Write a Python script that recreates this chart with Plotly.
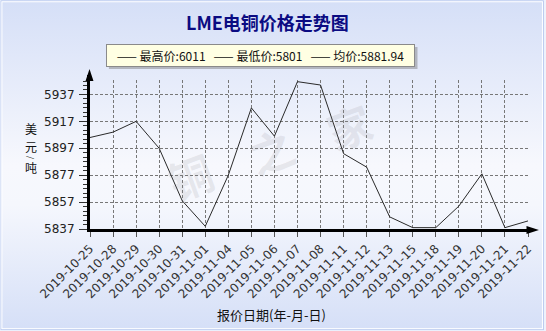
import base64
import plotly.graph_objects as go

# ---------------- data ----------------
dates = ["2019-10-25", "2019-10-28", "2019-10-29", "2019-10-30", "2019-10-31",
         "2019-11-01", "2019-11-04", "2019-11-05", "2019-11-06", "2019-11-07",
         "2019-11-08", "2019-11-11", "2019-11-12", "2019-11-13", "2019-11-15",
         "2019-11-18", "2019-11-19", "2019-11-20", "2019-11-21", "2019-11-22"]
prices = [5905, 5909, 5917, 5897, 5858,
          5839, 5877, 5927, 5906, 5946.5,
          5944, 5893, 5883, 5846, 5838,
          5838, 5854, 5878, 5838, 5843]
y_ticks = [5837, 5857, 5877, 5897, 5917, 5937]
legend_items = ["最高价:6011", "最低价:5801", "均价:5881.94"]
title_text = "LME电铜价格走势图"
x_title = "报价日期(年-月-日)"
y_title_parts = ["美", "元", "/", "吨"]
watermark = ["铜", "之", "家"]

# ---------------- geometry ----------------
W, H = 546, 331
L, R, T, B = 90, 16, 80, 101.5
PW = W - L - R
PH = H - T - B


def px(x, y):
    return (x - L) / PW, (H - B - y) / PH


def path(points):
    s = ""
    for i, (x, y) in enumerate(points):
        xp, yp = px(x, y)
        s += ("M" if i == 0 else "L") + f"{xp:.5f},{yp:.5f} "
    return s + "Z"


# background gradient as svg
svg = f'''<svg xmlns="http://www.w3.org/2000/svg" width="{W}" height="{H}">
<defs><linearGradient id="g" x1="0" y1="0" x2="0" y2="1">
<stop offset="0" stop-color="#d5dff7"/>
<stop offset="0.5" stop-color="#f7f8fd"/>
<stop offset="0.62" stop-color="#f5f7fd"/>
<stop offset="1" stop-color="#d5dff7"/>
</linearGradient></defs>
<rect x="0" y="0" width="{W}" height="{H}" fill="url(#g)"/>
<rect x="0.5" y="0.5" width="{W-1}" height="{H-1}" fill="none" stroke="#b9c9ef" stroke-width="1"/>
<rect x="1.5" y="1.5" width="{W-3}" height="{H-3}" fill="none" stroke="#ffffff" stroke-width="1"/>
</svg>'''
svg_uri = "data:image/svg+xml;base64," + base64.b64encode(svg.encode()).decode()

fig = go.Figure()
fig.add_trace(go.Scatter(x=dates, y=prices, mode="lines",
                         line=dict(color="#2a2a2a", width=1),
                         hoverinfo="skip", showlegend=False))

x0p, y0p = px(0, H)
x1p, y1p = px(W, 0)
fig.add_layout_image(dict(source=svg_uri, xref="paper", yref="paper",
                          x=x0p, y=y1p, sizex=x1p - x0p, sizey=y1p - y0p,
                          xanchor="left", yanchor="top", sizing="stretch",
                          layer="below"))

shapes = []
# arrows
shapes.append(dict(type="path", xref="paper", yref="paper",
                   path=path([(89.5, 69), (85.5, 81), (93.5, 81)]),
                   fillcolor="black", line=dict(width=0)))
shapes.append(dict(type="path", xref="paper", yref="paper",
                   path=path([(541, 230.5), (528.5, 226.5), (528.5, 234.5)]),
                   fillcolor="black", line=dict(width=0)))
# y axis extension to arrow
x_a, y_a = px(88.5, 80)
x_b, y_b = px(88.5, 75)
shapes.append(dict(type="line", xref="paper", yref="paper", x0=x_a, y0=y_a,
                   x1=x_b, y1=y_b, line=dict(color="black", width=3)))
# legend shadow
sx0, sy0 = px(109, 69)
sx1, sy1 = px(419, 47)
shapes.append(dict(type="rect", xref="paper", yref="paper", x0=sx0, y0=sy0,
                   x1=sx1, y1=sy1, fillcolor="rgba(120,120,120,0.45)",
                   line=dict(width=0), layer="below"))

annotations = []
tx, ty = px(268, 22)
annotations.append(dict(text=f"<b>{title_text}</b>", xref="paper", yref="paper",
                        x=tx, y=ty, showarrow=False, xanchor="center", yanchor="middle",
                        font=dict(family="Noto Sans CJK SC", size=18, color="#0b0b82")))
lx, ly = px(261.5, 55.5)
leg_text = "   ".join("—— " + s for s in legend_items)
annotations.append(dict(text=leg_text, xref="paper", yref="paper", x=lx, y=ly,
                        showarrow=False, xanchor="center", yanchor="middle",
                        width=303, height=17, bgcolor="#ffffe3", bordercolor="#8a8a8a",
                        borderwidth=1, borderpad=2,
                        font=dict(family="Noto Sans CJK SC", size=12, color="#111")))
xtx, xty = px(272, 315)
annotations.append(dict(text=x_title, xref="paper", yref="paper", x=xtx, y=xty,
                        showarrow=False, xanchor="center", yanchor="middle",
                        font=dict(family="Noto Sans CJK SC", size=13, color="#111")))
for part, cy, size, ang in zip(y_title_parts, [129, 147, 157.5, 168],
                               [12, 12, 8, 12], [0, 0, 90, 0]):
    ytx, yty = px(31, cy)
    annotations.append(dict(text=part, xref="paper", yref="paper", x=ytx, y=yty,
                            showarrow=False, xanchor="center", yanchor="middle",
                            textangle=ang, borderpad=0,
                            font=dict(family="Noto Sans CJK SC", size=size, color="#111")))
for ch, (cx, cy) in zip(watermark, [(190, 176), (272, 150), (350, 126)]):
    wx, wy = px(cx, cy)
    annotations.append(dict(text=f"<b>{ch}</b>", xref="paper", yref="paper",
                            x=wx, y=wy, showarrow=False, textangle=-20,
                            xanchor="center", yanchor="middle",
                            font=dict(family="Noto Sans CJK SC", size=44,
                                      color="rgba(140,140,150,0.16)")))

fig.update_layout(
    width=W, height=H,
    margin=dict(l=L, r=R, t=T, b=B, pad=0),
    paper_bgcolor="#eef2fc", plot_bgcolor="rgba(0,0,0,0)",
    shapes=shapes, annotations=annotations, showlegend=False,
    xaxis=dict(type="category", range=[0, len(dates) - 1],
               showline=True, linecolor="black", linewidth=3,
               showgrid=True, gridcolor="#777", griddash="3px,2px", gridwidth=1,
               ticks="outside", ticklen=5, tickcolor="#555", tickwidth=1,
               tickangle=-45, tickfont=dict(family="DejaVu Sans", size=12, color="#333"),
               zeroline=False, fixedrange=True),
    yaxis=dict(range=[5837, 5837 + PH / 1.35], tickmode="array", tickvals=y_ticks,
               showline=True, linecolor="black", linewidth=3,
               showgrid=True, gridcolor="#777", griddash="3px,2px", gridwidth=1,
               ticks="outside", ticklen=8, tickcolor="#333", tickwidth=1,
               ticklabelstandoff=2,
               minor=dict(tickmode="linear", tick0=5837, dtick=20 / 6, ticklen=4,
                          tickcolor="#333", showgrid=False, ticks="outside"),
               tickfont=dict(family="DejaVu Sans", size=12, color="#222"),
               zeroline=False, fixedrange=True),
)

fig.write_html("out.html")
